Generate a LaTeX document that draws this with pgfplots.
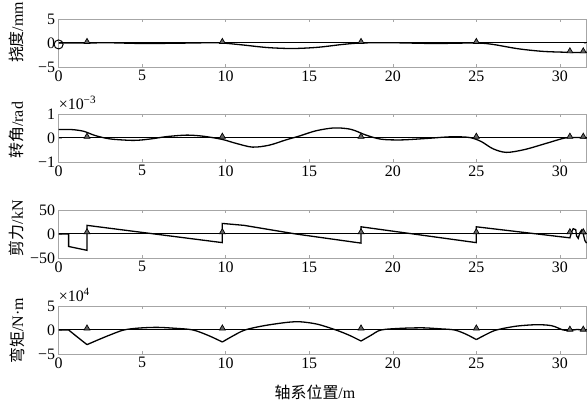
\documentclass[border=0pt]{standalone}
\usepackage{fontspec}
\setmainfont{Liberation Serif}
\newfontfamily\cjk{Noto Sans CJK SC}
\usepackage{pgfplots}
\pgfplotsset{compat=1.18}

\pgfplotsset{
  panel/.style={
    scale only axis, width=528bp, height=48bp,
    anchor=south west,
    xmin=0, xmax=31.6,
    xtick={0,5,10,15,20,25,30},
    xticklabels={0,5,10,15,20,25,30},
    axis line style={black!35}, tick style={black!35, thin},
    tick align=inside, major tick length=3bp,
    tick label style={font=\fontsize{16}{16}\selectfont, black},
    clip=false,
  },
  curve/.style={black, line width=1.3bp},
  zero/.style={black, line width=1bp},
  supp/.style={only marks, mark=triangle*, mark size=3.4bp,
    mark options={fill=black!60, draw=black, line width=0.7bp}},
}
\newcommand{\ylab}[2]{\node[rotate=90, font=\fontsize{16}{16}\selectfont]
  at (rel axis cs:-0.079,#1) {#2};}

\begin{document}
\begin{tikzpicture}
\path[use as bounding box] (0bp,0bp) rectangle (587bp,411bp);

% deflection
\begin{axis}[panel, at={(58.6bp,344bp)}, ymin=-5, ymax=5,
  ytick={-5,0,5}, yticklabels={−5,0,5}]
\addplot[zero] coordinates {(0,0) (31.6,0)};
\addplot[curve, smooth] coordinates {
  (0,0) (1.7,0) (3,0.05) (5,-0.1) (7,-0.05) (9,0.05) (9.8,0)
  (11,-0.4) (12.5,-0.95) (14,-1.15) (15.5,-0.9) (17,-0.3) (18.1,0)
  (20,0.05) (22.5,-0.1) (25,0) (26,-0.3) (27.5,-1.2) (29,-1.75)
  (30.6,-1.95) (31.4,-2.0) (31.6,-1.9)};
\addplot[only marks, mark=o, mark size=4.5bp, mark options={line width=1bp}]
  coordinates {(0,-0.3)};
\addplot[supp] coordinates {(1.7,0.25) (9.8,0.25) (18.1,0.25) (25,0.25) (30.6,-1.7) (31.4,-1.7)};
\ylab{0.72}{{\cjk 挠度}/mm}
\end{axis}

% rotation
\begin{axis}[panel, at={(58.6bp,249bp)}, ymin=-1, ymax=1,
  ytick={-1,0,1}, yticklabels={−1,0,1}]
\addplot[zero] coordinates {(0,0) (31.6,0)};
\addplot[curve, smooth] coordinates {
  (0,0.35) (0.8,0.35) (1.5,0.28) (2.2,0.1) (3.1,-0.04) (4.5,-0.1)
  (5.5,-0.04) (6.5,0.06) (7.7,0.12) (8.7,0.07) (9.8,-0.06) (10.6,-0.22)
  (11.6,-0.38) (12.6,-0.3) (13.6,-0.08) (14.4,0.08) (15.4,0.3) (16.5,0.42)
  (17.5,0.36) (18.4,0.12) (19.3,-0.05) (20.5,-0.08) (22,-0.02) (23.5,0.05)
  (24.6,0.02) (25.3,-0.15) (26,-0.45) (26.8,-0.6) (27.9,-0.48) (29.2,-0.22)
  (30.3,0) (31,0.02) (31.6,0)};
\addplot[supp] coordinates {(1.7,0.06) (9.8,0.06) (18.1,0.06) (25,0.06) (30.6,0.06) (31.4,0.06)};
\node[anchor=south west, inner sep=0pt, font=\fontsize{16}{16}\selectfont]
  at (rel axis cs:0,1.08) {×10\textsuperscript{−3}};
\ylab{0.66}{{\cjk 转角}/rad}
\end{axis}

% shear
\begin{axis}[panel, at={(58.6bp,153bp)}, ymin=-50, ymax=50,
  ytick={-50,0,50}, yticklabels={−50,0,50}]
\addplot[zero] coordinates {(0,0) (31.6,0)};
\addplot[curve] coordinates {
  (0,0) (0.6,0) (0.6,-26) (1.7,-34) (1.7,18) (9.8,-18) (9.8,22)
  (11.1,18) (14.2,0) (18.1,-19) (18.1,15) (25,-18) (25,15) (30.6,-8)
  (30.7,4) (30.8,11) (30.95,9) (31.0,-4) (31.1,-9) (31.2,3) (31.3,8)
  (31.4,0) (31.5,-14) (31.6,-19)};
\addplot[supp] coordinates {(1.7,4) (9.8,4) (18.1,4) (25,4) (30.6,4) (31.4,4)};
\ylab{0.62}{{\cjk 剪力}/kN}
\end{axis}

% bending moment
\begin{axis}[panel, at={(58.6bp,57bp)}, ymin=-5, ymax=5,
  ytick={-5,0,5}, yticklabels={−5,0,5}]
\addplot[zero] coordinates {(0,0) (31.6,0)};
\addplot[curve] coordinates {(0,0) (0.6,0) (1.1,-1.4) (1.7,-3.05)};
\addplot[curve, smooth] coordinates {
  (1.7,-3.05) (2.4,-2.0) (3.1,-1.0) (3.9,0) (4.8,0.4) (5.9,0.55) (7,0.35)
  (8.05,0) (9,-1.2) (9.8,-2.5)};
\addplot[curve, smooth] coordinates {
  (9.8,-2.5) (10.4,-1.3) (11.15,0) (12.3,0.9) (13.7,1.6) (14.5,1.7)
  (15.5,1.2) (16.6,0) (17.4,-1.1) (18.1,-2.3)};
\addplot[curve, smooth] coordinates {
  (18.1,-2.3) (18.7,-1.1) (19.3,0) (20.5,0.35) (21.8,0.45) (22.8,0.25)
  (23.7,0) (24.4,-0.9) (25,-2.0)};
\addplot[curve, smooth] coordinates {
  (25,-2.0) (25.6,-0.9) (26.2,0) (27.4,0.8) (28.6,1.1) (29.5,0.9)
  (30.2,0) (30.6,-0.1)};
\addplot[curve] coordinates {(30.6,-0.1) (31.0,0.1) (31.6,0)};
\addplot[supp] coordinates {(1.7,0.35) (9.8,0.35) (18.1,0.35) (25,0.35) (30.6,0.1) (31.4,0.1)};
\node[anchor=south west, inner sep=0pt, font=\fontsize{16}{16}\selectfont]
  at (rel axis cs:0,1.08) {×10\textsuperscript{4}};
\ylab{0.48}{{\cjk 弯矩}/N·m}
\end{axis}

\node[font=\fontsize{16}{16}\selectfont] at (315bp,19bp) {{\cjk 轴系位置}/m};
\end{tikzpicture}
\end{document}
